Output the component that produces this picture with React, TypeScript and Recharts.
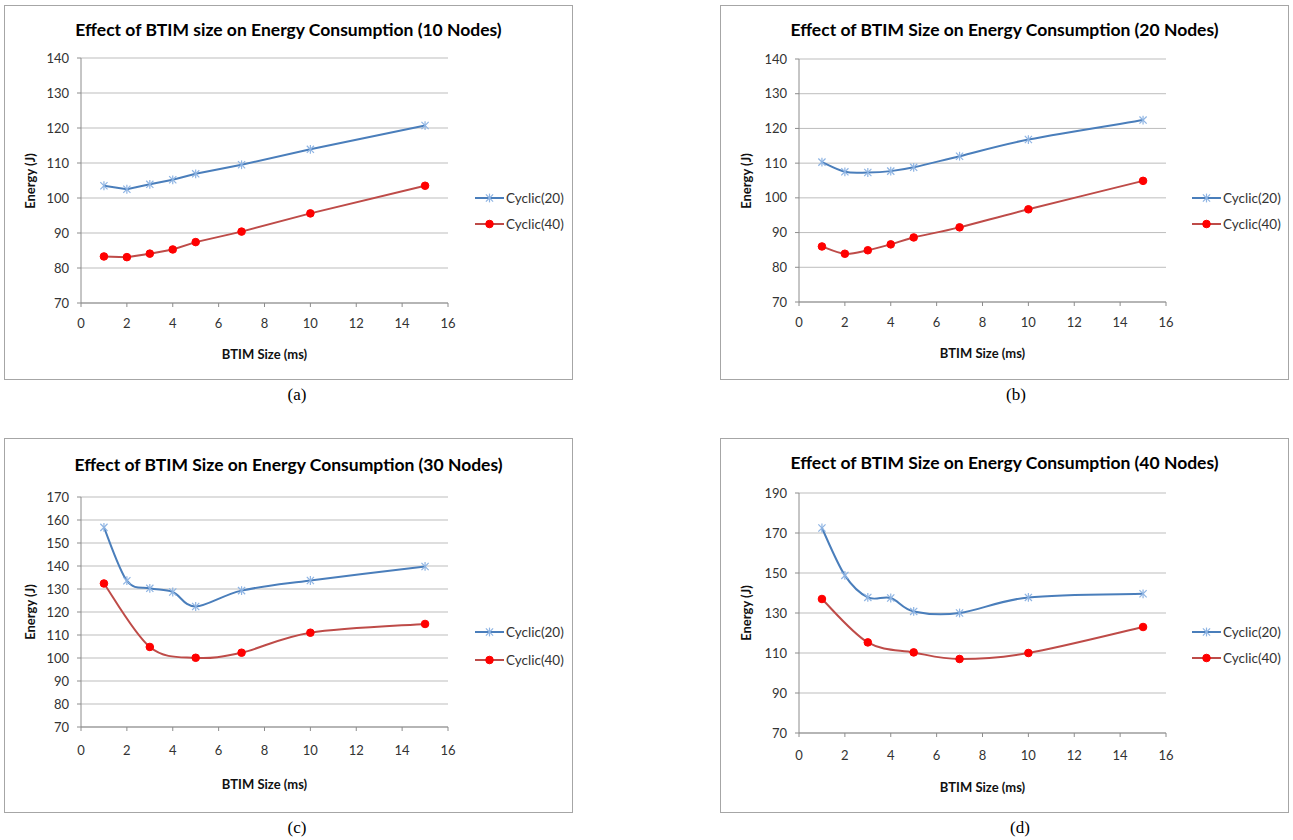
import React from 'react';
import { LineChart, Line, XAxis, YAxis, CartesianGrid } from 'recharts';

// ---- data ----
const sizesFull = [1, 2, 3, 4, 5, 7, 10, 15];
const sizesSparse = [1, 3, 5, 7, 10, 15];

const a20 = [103.5, 102.5, 103.9, 105.2, 106.9, 109.5, 113.9, 120.7];
const a40 = [83.3, 83.1, 84.1, 85.3, 87.4, 90.4, 95.6, 103.5];

const b20 = [110.3, 107.5, 107.3, 107.7, 108.8, 112.0, 116.8, 122.4];
const b40 = [86.0, 83.9, 84.9, 86.6, 88.6, 91.5, 96.7, 104.9];

const c20 = [156.8, 133.6, 130.3, 128.7, 122.4, 129.3, 133.7, 139.8];
const c40 = [132.4, 104.8, 100.1, 102.3, 111.0, 114.8];

const d20 = [172.5, 148.8, 137.8, 137.5, 130.8, 130.0, 137.8, 139.6];
const d40 = [137.0, 115.3, 110.3, 107.0, 110.0, 123.0];

const xTicks = [0, 2, 4, 6, 8, 10, 12, 14, 16];
const yTicksAB = [70, 80, 90, 100, 110, 120, 130, 140];
const yTicksC = [70, 80, 90, 100, 110, 120, 130, 140, 150, 160, 170];
const yTicksD = [70, 90, 110, 130, 150, 170, 190];

const seriesNames = ['Cyclic(20)', 'Cyclic(40)'];
const titles = [
  'Effect of BTIM size on Energy Consumption (10 Nodes)',
  'Effect of BTIM Size on Energy Consumption (20 Nodes)',
  'Effect of BTIM Size on Energy Consumption (30 Nodes)',
  'Effect of BTIM Size on Energy Consumption (40 Nodes)',
];
const captions = ['(a)', '(b)', '(c)', '(d)'];
const xTitle = 'BTIM Size (ms)';
const yTitle = 'Energy (J)';

// ---- styles ----
const FONT = 'Lato, "Open Sans", sans-serif';
const BLUE = '#4A7EBB';
const BLUE_MARK = '#8EB4E3';
const RED = '#BE4B48';
const RED_MARK = '#FF0000';
const GRID = '#BDBDBD';
const AXIS = '#8C8C8C';

const toPts = (xs: number[], ys: number[]) => xs.map((x, i) => ({ x, y: ys[i] }));

// Excel-like smoothed line (uniform Catmull-Rom as cubic Bezier)
function smoothCurve(context: any) {
  let pts: number[][] = [];
  return {
    areaStart() {},
    areaEnd() {},
    lineStart() {
      pts = [];
    },
    point(x: number, y: number) {
      pts.push([+x, +y]);
    },
    lineEnd() {
      if (!pts.length) return;
      context.moveTo(pts[0][0], pts[0][1]);
      for (let i = 0; i < pts.length - 1; i++) {
        const p0 = pts[i - 1] || pts[i];
        const p1 = pts[i];
        const p2 = pts[i + 1];
        const p3 = pts[i + 2] || p2;
        context.bezierCurveTo(
          p1[0] + (p2[0] - p0[0]) / 6,
          p1[1] + (p2[1] - p0[1]) / 6,
          p2[0] - (p3[0] - p1[0]) / 6,
          p2[1] - (p3[1] - p1[1]) / 6,
          p2[0],
          p2[1]
        );
      }
    },
  };
}

const StarDot = (props: any) => {
  const { cx, cy, index } = props;
  if (cx == null || cy == null) return <g key={`s${index}`} />;
  const r = 3.6;
  return (
    <g key={`s${index}`} stroke={BLUE_MARK} strokeWidth={1.2}>
      <line x1={cx - r} y1={cy - r} x2={cx + r} y2={cy + r} />
      <line x1={cx - r} y1={cy + r} x2={cx + r} y2={cy - r} />
      <line x1={cx} y1={cy - r - 0.8} x2={cx} y2={cy + r + 0.8} />
    </g>
  );
};

const CircleDot = (props: any) => {
  const { cx, cy, index } = props;
  if (cx == null || cy == null) return <g key={`c${index}`} />;
  return <circle key={`c${index}`} cx={cx} cy={cy} r={3.8} fill={RED_MARK} stroke={RED_MARK} strokeWidth={1} />;
};

type Panel = {
  left: number;
  top: number;
  W: number;
  H: number;
  L: number;
  R: number;
  T: number;
  B: number;
  yTicks: number[];
  tickMargin: number;
  titleY: number;
  xTitleY: number;
  legendX: number;
  legendY: number[];
  caption: [number, number];
  smooth: boolean;
  s20: { x: number; y: number }[];
  s40: { x: number; y: number }[];
  title: string;
  cap: string;
};

const panels: Panel[] = [
  {
    left: 4, top: 5, W: 569, H: 375, L: 77, R: 444, T: 53, B: 298,
    yTicks: yTicksAB, tickMargin: 12, titleY: 25, xTitleY: 349,
    legendX: 471, legendY: [193, 219], caption: [297, 395], smooth: false,
    s20: toPts(sizesFull, a20), s40: toPts(sizesFull, a40), title: titles[0], cap: captions[0],
  },
  {
    left: 720, top: 5, W: 569, H: 375, L: 79, R: 446, T: 54, B: 297,
    yTicks: yTicksAB, tickMargin: 11.5, titleY: 25, xTitleY: 348,
    legendX: 472, legendY: [193, 219], caption: [1016, 395], smooth: true,
    s20: toPts(sizesFull, b20), s40: toPts(sizesFull, b40), title: titles[1], cap: captions[1],
  },
  {
    left: 4, top: 438, W: 569, H: 375, L: 77, R: 444, T: 59, B: 289,
    yTicks: yTicksC, tickMargin: 15, titleY: 27, xTitleY: 346,
    legendX: 471, legendY: [194, 222], caption: [297, 828], smooth: true,
    s20: toPts(sizesFull, c20), s40: toPts(sizesSparse, c40), title: titles[2], cap: captions[2],
  },
  {
    left: 720, top: 438, W: 569, H: 375, L: 79, R: 446, T: 55, B: 295,
    yTicks: yTicksD, tickMargin: 13.5, titleY: 25, xTitleY: 349,
    legendX: 472, legendY: [194, 220], caption: [1020, 828], smooth: true,
    s20: toPts(sizesFull, d20), s40: toPts(sizesSparse, d40), title: titles[3], cap: captions[3],
  },
];

const Y_AXIS_W = 40;
const X_AXIS_H = 30;

const LegendItem = ({ kind, label, x, y }: { kind: 'star' | 'dot'; label: string; x: number; y: number }) => (
  <div style={{ position: 'absolute', left: x, top: y - 9, height: 18, display: 'flex', alignItems: 'center', whiteSpace: 'nowrap' }}>
    <svg width={30} height={16} style={{ display: 'block' }}>
      <line x1={0} y1={8} x2={29} y2={8} stroke={kind === 'star' ? BLUE : RED} strokeWidth={2} />
      {kind === 'star' ? (
        <StarDot cx={14.5} cy={8} index={0} />
      ) : (
        <CircleDot cx={14.5} cy={8} index={0} />
      )}
    </svg>
    <span style={{ fontFamily: FONT, fontSize: 13.5, color: '#333', marginLeft: 1 }}>{label}</span>
  </div>
);

const PanelChart = ({ p }: { p: Panel }) => {
  const yMin = p.yTicks[0];
  const yMax = p.yTicks[p.yTicks.length - 1];
  return (
    <div style={{ position: 'absolute', left: p.left, top: p.top, width: p.W, height: p.H }}>
      <div style={{ position: 'absolute', left: 0, top: 0, width: p.W, height: p.H, border: '1.5px solid #A6A6A6', boxSizing: 'border-box' }} />
      <div style={{ position: 'absolute', left: 0, top: 0 }}>
        <LineChart
          width={p.W}
          height={p.H}
          margin={{ top: p.T, left: p.L - Y_AXIS_W, right: p.W - p.R, bottom: p.H - p.B - X_AXIS_H }}
        >
          <CartesianGrid vertical={false} stroke={GRID} strokeWidth={1} />
          <XAxis
            type="number"
            dataKey="x"
            domain={[0, 16]}
            ticks={xTicks}
            interval={0}
            height={X_AXIS_H}
            tickSize={4}
            tickMargin={p.tickMargin}
            stroke={AXIS}
            tickLine={{ stroke: AXIS }}
            tick={{ fill: '#333', fontSize: 13, fontFamily: FONT }}
            allowDataOverflow
          />
          <YAxis
            type="number"
            dataKey="y"
            domain={[yMin, yMax]}
            ticks={p.yTicks}
            interval={0}
            width={Y_AXIS_W}
            tickSize={4}
            tickMargin={8}
            stroke={AXIS}
            tickLine={{ stroke: AXIS }}
            tick={{ fill: '#333', fontSize: 13, fontFamily: FONT }}
            allowDataOverflow
          />
          <Line
            data={p.s20}
            dataKey="y"
            name={seriesNames[0]}
            type={p.smooth ? (smoothCurve as any) : 'linear'}
            stroke={BLUE}
            strokeWidth={2}
            dot={StarDot}
            activeDot={false}
            isAnimationActive={false}
          />
          <Line
            data={p.s40}
            dataKey="y"
            name={seriesNames[1]}
            type={p.smooth ? (smoothCurve as any) : 'linear'}
            stroke={RED}
            strokeWidth={2}
            dot={CircleDot}
            activeDot={false}
            isAnimationActive={false}
          />
        </LineChart>
      </div>
      <div
        style={{
          position: 'absolute', left: 0, width: p.W, top: p.titleY - 12, height: 24, lineHeight: '24px',
          textAlign: 'center', fontFamily: FONT, fontWeight: 'bold', fontSize: 17.5, color: '#000', whiteSpace: 'nowrap',
        }}
      >
        {p.title}
      </div>
      <div
        style={{
          position: 'absolute', left: p.L - 100, width: p.R - p.L + 200, top: p.xTitleY - 9, height: 18, lineHeight: '18px',
          textAlign: 'center', fontFamily: FONT, fontWeight: 'bold', fontSize: 13, color: '#111', whiteSpace: 'nowrap',
        }}
      >
        {xTitle}
      </div>
      <div
        style={{
          position: 'absolute', left: 26 - 60, top: (p.T + p.B) / 2 - 9, width: 120, height: 18, lineHeight: '18px',
          textAlign: 'center', fontFamily: FONT, fontWeight: 'bold', fontSize: 13, color: '#111', whiteSpace: 'nowrap',
          transform: 'rotate(-90deg)',
        }}
      >
        {yTitle}
      </div>
      <LegendItem kind="star" label={seriesNames[0]} x={p.legendX} y={p.legendY[0]} />
      <LegendItem kind="dot" label={seriesNames[1]} x={p.legendX} y={p.legendY[1]} />
    </div>
  );
};

export default function App() {
  return (
    <div style={{ position: 'absolute', left: 0, top: 0, width: 1293, height: 840, background: '#fff', overflow: 'hidden' }}>
      {panels.map((p, i) => (
        <React.Fragment key={i}>
          <PanelChart p={p} />
          <div
            style={{
              position: 'absolute', left: p.caption[0] - 30, top: p.caption[1] - 11, width: 60, height: 22, lineHeight: '22px',
              textAlign: 'center', fontFamily: '"Liberation Serif", "Times New Roman", serif', fontSize: 17, color: '#000',
            }}
          >
            {p.cap}
          </div>
        </React.Fragment>
      ))}
    </div>
  );
}
